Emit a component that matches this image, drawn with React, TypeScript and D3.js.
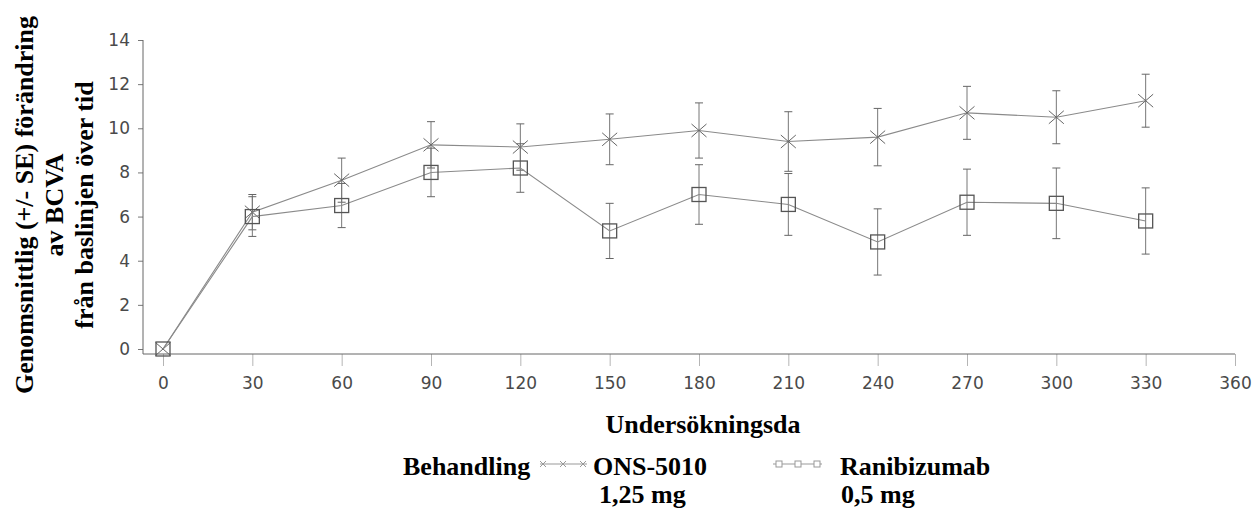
import React, { useEffect, useRef } from 'react';
import * as d3 from 'd3';

// days of examination
const days = [0, 30, 60, 90, 120, 150, 180, 210, 240, 270, 300, 330];
// ONS-5010 1,25 mg mean change and SE
const onsMean = [0, 6.2, 7.65, 9.25, 9.15, 9.5, 9.9, 9.4, 9.6, 10.7, 10.5, 11.25];
const onsSE = [0, 0.8, 1.0, 1.05, 1.05, 1.15, 1.25, 1.35, 1.3, 1.2, 1.2, 1.2];
// Ranibizumab 0,5 mg
const raniMean = [0, 6.0, 6.5, 8.0, 8.2, 5.35, 7.0, 6.55, 4.85, 6.65, 6.6, 5.8];
const raniSE = [0, 0.9, 1.0, 1.1, 1.1, 1.25, 1.35, 1.4, 1.5, 1.5, 1.6, 1.5];

const xTicks = [0, 30, 60, 90, 120, 150, 180, 210, 240, 270, 300, 330, 360];
const yTicks = [0, 2, 4, 6, 8, 10, 12, 14];

const yTitle = ['Genomsnittlig (+/- SE) förändring', 'av BCVA', 'från baslinjen över tid'];
const xTitle = 'Undersökningsda';
const legendTitle = 'Behandling';

const W = 1252;
const H = 508;
const serif = '"Liberation Serif", "Times New Roman", serif';
const sans = '"DejaVu Sans", sans-serif';

function App() {
  const ref = useRef(null);

  useEffect(() => {
    const svg = d3.select(ref.current);
    svg.selectAll('*').remove();

    const x = d3.scaleLinear().domain([0, 360]).range([163, 1235]);
    const y = d3.scaleLinear().domain([0, 14]).range([349, 40]);
    const axisY = 354;
    const axisX = 143;

    // x axis
    const gx = svg.append('g').attr('transform', `translate(0,${axisY})`);
    gx.call(d3.axisBottom(x).tickValues(xTicks).tickSize(12).tickPadding(11));
    gx.select('.domain').remove();
    gx.selectAll('.tick line').attr('stroke', '#b5b5b5');
    gx.selectAll('.tick text')
      .attr('fill', '#4a4a4a')
      .style('font-family', sans)
      .style('font-size', '17px');
    svg.append('line')
      .attr('x1', axisX).attr('x2', x(360))
      .attr('y1', axisY).attr('y2', axisY)
      .attr('stroke', '#666');

    // y axis
    const gy = svg.append('g').attr('transform', `translate(${axisX},0)`);
    gy.call(d3.axisLeft(y).tickValues(yTicks).tickSize(5).tickPadding(8));
    gy.select('.domain').remove();
    gy.selectAll('.tick line').attr('stroke', '#777');
    gy.selectAll('.tick text')
      .attr('fill', '#4a4a4a')
      .style('font-family', sans)
      .style('font-size', '17px');
    svg.append('line')
      .attr('x1', axisX).attr('x2', axisX)
      .attr('y1', y(14)).attr('y2', axisY)
      .attr('stroke', '#666');

    const series = [
      { mean: onsMean, se: onsSE, type: 'x' },
      { mean: raniMean, se: raniSE, type: 'sq' },
    ];

    const line = d3.line()
      .x((d) => x(d[0]))
      .y((d) => y(d[1]));

    series.forEach((s) => {
      const pts = days.map((d, i) => [d, s.mean[i], s.se[i]]);
      const g = svg.append('g');

      // error bars
      const eb = g.selectAll('.eb').data(pts.filter((p) => p[2] > 0)).enter().append('g');
      eb.append('line')
        .attr('x1', (d) => x(d[0])).attr('x2', (d) => x(d[0]))
        .attr('y1', (d) => y(d[1] - d[2])).attr('y2', (d) => y(d[1] + d[2]))
        .attr('stroke', '#777');
      [1, -1].forEach((sign) => {
        eb.append('line')
          .attr('x1', (d) => x(d[0]) - 4).attr('x2', (d) => x(d[0]) + 4)
          .attr('y1', (d) => y(d[1] + sign * d[2])).attr('y2', (d) => y(d[1] + sign * d[2]))
          .attr('stroke', '#666');
      });

      g.append('path')
        .datum(pts)
        .attr('d', line)
        .attr('fill', 'none')
        .attr('stroke', '#8a8a8a')
        .attr('stroke-width', 1.1);

      if (s.type === 'x') {
        g.selectAll('.mk').data(pts).enter().append('path')
          .attr('d', (d) => {
            const cx = x(d[0]);
            const cy = y(d[1]);
            return `M${cx - 7.5},${cy - 6.5}L${cx + 7.5},${cy + 6.5}M${cx - 7.5},${cy + 6.5}L${cx + 7.5},${cy - 6.5}`;
          })
          .attr('stroke', '#666')
          .attr('fill', 'none');
      } else {
        g.selectAll('.mk').data(pts).enter().append('rect')
          .attr('x', (d) => x(d[0]) - 7)
          .attr('y', (d) => y(d[1]) - 7)
          .attr('width', 14)
          .attr('height', 14)
          .attr('fill', 'none')
          .attr('stroke', '#555')
          .attr('stroke-width', 1.3);
      }
    });

    // titles
    const yt = svg.append('g')
      .style('font-family', serif)
      .style('font-weight', 'bold')
      .style('font-size', '26px')
      .attr('fill', '#000')
      .attr('text-anchor', 'middle');
    const base = [33, 63, 93];
    yTitle.forEach((t, i) => {
      yt.append('text')
        .attr('transform', `translate(${base[i]},205) rotate(-90)`)
        .text(t);
    });

    const tt = svg.append('g')
      .style('font-family', serif)
      .style('font-weight', 'bold')
      .style('font-size', '26px')
      .attr('fill', '#000');
    tt.append('text').attr('x', 703).attr('y', 433).attr('text-anchor', 'middle').text(xTitle);

    // legend
    tt.append('text').attr('x', 403).attr('y', 475).text(legendTitle);
    tt.append('text').attr('x', 593).attr('y', 475).text('ONS-5010');
    tt.append('text').attr('x', 599).attr('y', 503).text('1,25 mg');
    tt.append('text').attr('x', 840).attr('y', 475).text('Ranibizumab');
    tt.append('text').attr('x', 841).attr('y', 503).text('0,5 mg');

    const lg = svg.append('g').attr('stroke', '#999').attr('fill', 'none');
    lg.append('line').attr('x1', 540).attr('x2', 587).attr('y1', 464).attr('y2', 464);
    [543, 563, 583].forEach((cx) => {
      lg.append('path').attr('d', `M${cx - 3},${461}L${cx + 3},${467}M${cx - 3},${467}L${cx + 3},${461}`);
    });
    lg.append('line').attr('x1', 773).attr('x2', 822).attr('y1', 464).attr('y2', 464);
    [779, 798, 817].forEach((cx) => {
      lg.append('rect').attr('x', cx - 3).attr('y', 461).attr('width', 6).attr('height', 6).attr('fill', '#fff');
    });
  }, []);

  return (
    <div style={{ position: 'absolute', left: 0, top: 0 }}>
      <svg ref={ref} width={W} height={H} style={{ display: 'block', background: '#fff' }} />
    </div>
  );
}

export default App;
